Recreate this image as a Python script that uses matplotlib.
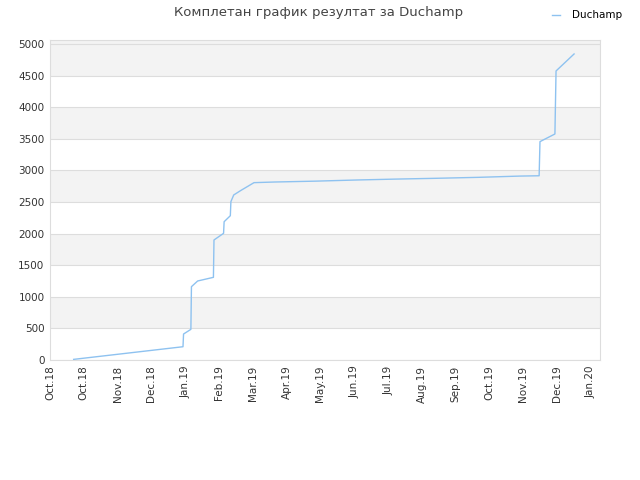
import matplotlib
matplotlib.use("Agg")
import matplotlib.pyplot as plt
import pandas as pd
import datetime as dt

# data
dates = ["2018-10-22 00:00", "2019-01-27 00:00", "2019-01-27 12:00", "2019-02-03 00:00", "2019-02-03 12:00",
         "2019-02-09 00:00", "2019-02-23 00:00", "2019-02-23 12:00", "2019-03-04 00:00", "2019-03-04 12:00",
         "2019-03-10 00:00", "2019-03-10 12:00", "2019-03-13 00:00", "2019-03-19 00:00", "2019-03-31 00:00",
         "2019-04-18 00:00", "2019-05-25 00:00", "2019-06-30 00:00", "2019-08-03 00:00", "2019-09-09 00:00",
         "2019-10-16 00:00", "2019-11-22 00:00", "2019-12-09 00:00", "2019-12-09 18:00", "2019-12-23 00:00",
         "2019-12-24 00:00", "2020-01-09 00:00"]
values = [10, 210, 411, 485, 1160,
          1250, 1308, 1899, 2004, 2188,
          2283, 2505, 2611, 2679, 2806,
          2816, 2830, 2848, 2862, 2875,
          2890, 2910, 2915, 3455, 3576,
          4573, 4842]
series_name = "Duchamp"
title = "Комплетан график резултат за Duchamp"

x = pd.to_datetime(dates, format="%Y-%m-%d %H:%M")

fig = plt.figure(figsize=(6.4, 4.8), dpi=100)
ax = fig.add_axes([50/640, 1-360/480, 550/640, 320/480])

start = dt.datetime(2018, 10, 1)
tick_dates = [start + dt.timedelta(days=30*i) for i in range(17)]
ax.set_xlim(start, start + dt.timedelta(days=488))
ax.set_ylim(0, 5063)

# alternating bands
yt = list(range(0, 5001, 500))
for i in range(len(yt)):
    lo = yt[i]
    hi = yt[i+1] if i+1 < len(yt) else 5063
    if i % 2 == 1 or i == len(yt) - 1:
        ax.axhspan(lo, hi, color="#f3f3f3", zorder=0, lw=0)
for v in yt:
    ax.axhline(v, color="#dddddd", lw=0.8, zorder=1)

ax.plot(x, values, color="#8ec2f0", lw=1.0, zorder=3, label=series_name)

ax.set_xticks(tick_dates)
ax.set_xticklabels([d.strftime("%b.%y") for d in tick_dates], rotation=90, fontsize=7.5, color="#333333")
ax.set_yticks(yt)
ax.set_yticklabels([str(v) for v in yt], fontsize=7.5, color="#333333")
ax.tick_params(length=0, pad=4)
for s in ax.spines.values():
    s.set_color("#dddddd")
    s.set_linewidth(0.8)

fig.text(0.497, 0.974, title, ha="center", va="center", fontsize=9.5, color="#444444")
fig.legend(loc="upper right", bbox_to_anchor=(0.986, 0.998), frameon=False, fontsize=7.5,
           handlelength=0.8, handletextpad=1.1)

fig.savefig("out.png", dpi=100)
